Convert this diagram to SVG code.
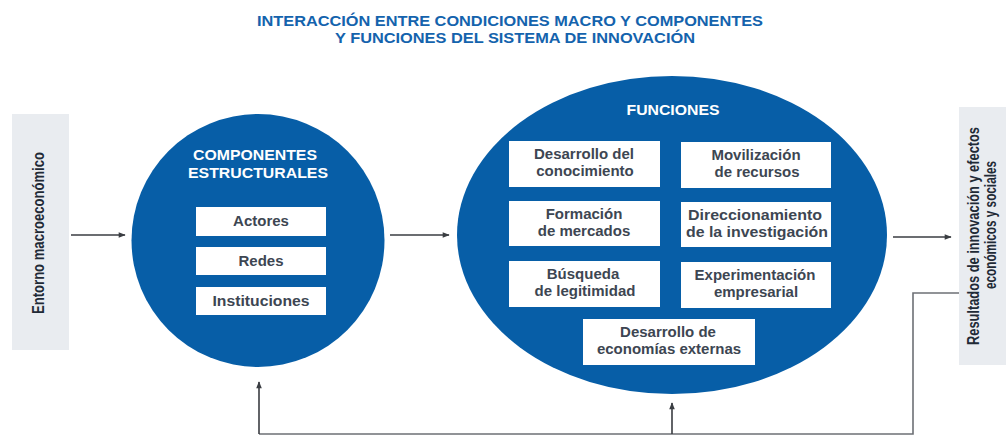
<svg xmlns="http://www.w3.org/2000/svg" width="1006" height="435" viewBox="0 0 1006 435">
<defs>
<marker id="ah" viewBox="0 0 10 10" refX="9" refY="5" markerWidth="8" markerHeight="7" markerUnits="userSpaceOnUse" orient="auto">
<path d="M0,1 L10,5 L0,9 Z" fill="#3a3d42"/>
</marker>
<style>
.title{font-family:"Liberation Sans",Arial,sans-serif;font-weight:bold;font-size:15px;fill:#1463ad;text-anchor:middle}
.head{font-family:"Liberation Sans",Arial,sans-serif;font-weight:bold;font-size:14px;fill:#ffffff;text-anchor:middle}
.bx{fill:#ffffff}
.bt{font-family:"Liberation Sans",Arial,sans-serif;font-weight:bold;font-size:15px;fill:#3d4652;text-anchor:middle}
.side{fill:#e9ecf0}
.st{font-family:"Liberation Sans",Arial,sans-serif;font-weight:bold;font-size:16px;fill:#1f2a36;text-anchor:middle}
.blue{fill:#075ea7}
.cn{stroke:#3a3d42;stroke-width:1.6;fill:none}
.fb{stroke:#6d7075;stroke-width:1.6;fill:none}
</style>
</defs>
<rect width="1006" height="435" fill="#ffffff"/>
<g id="title">
<text class="title" x="510" y="26" textLength="506" lengthAdjust="spacingAndGlyphs">INTERACCIÓN ENTRE CONDICIONES MACRO Y COMPONENTES</text>
<text class="title" x="515" y="43" textLength="360" lengthAdjust="spacingAndGlyphs">Y FUNCIONES DEL SISTEMA DE INNOVACIÓN</text>
</g>
<g id="entorno">
<rect class="side" x="12" y="114" width="57" height="236"/>
<text class="st" transform="translate(44,233) rotate(-90)" textLength="162" lengthAdjust="spacingAndGlyphs">Entorno macroeconómico</text>
</g>
<g id="componentes">
<circle class="blue" cx="258" cy="240.5" r="126.5"/>
<text class="head" x="255" y="160" textLength="124" lengthAdjust="spacingAndGlyphs">COMPONENTES</text>
<text class="head" x="258" y="178" textLength="140" lengthAdjust="spacingAndGlyphs">ESTRUCTURALES</text>
<rect class="bx" x="196" y="207" width="130" height="29"/>
<text class="bt" x="261" y="226">Actores</text>
<rect class="bx" x="196" y="247" width="130" height="28"/>
<text class="bt" x="261" y="266">Redes</text>
<rect class="bx" x="196" y="287" width="130" height="28"/>
<text class="bt" x="261" y="306" textLength="97" lengthAdjust="spacingAndGlyphs">Instituciones</text>
</g>
<g id="funciones">
<ellipse class="blue" cx="672" cy="235" rx="215" ry="159"/>
<text class="head" x="673" y="115" textLength="93" lengthAdjust="spacingAndGlyphs">FUNCIONES</text>
<rect class="bx" x="509" y="141" width="151" height="46"/>
<text class="bt" x="584" y="159">Desarrollo del</text>
<text class="bt" x="585" y="176">conocimiento</text>
<rect class="bx" x="681" y="142" width="150" height="46"/>
<text class="bt" x="756" y="160">Movilización</text>
<text class="bt" x="757" y="177">de recursos</text>
<rect class="bx" x="509" y="201" width="151" height="45"/>
<text class="bt" x="584" y="219">Formación</text>
<text class="bt" x="584" y="236">de mercados</text>
<rect class="bx" x="681" y="202" width="150" height="45"/>
<text class="bt" x="755" y="220" textLength="134" lengthAdjust="spacingAndGlyphs">Direccionamiento</text>
<text class="bt" x="757" y="237" textLength="142" lengthAdjust="spacingAndGlyphs">de la investigación</text>
<rect class="bx" x="509" y="261" width="151" height="46"/>
<text class="bt" x="583" y="279">Búsqueda</text>
<text class="bt" x="585" y="296">de legitimidad</text>
<rect class="bx" x="681" y="262" width="150" height="46"/>
<text class="bt" x="755" y="280">Experimentación</text>
<text class="bt" x="756" y="297">empresarial</text>
<rect class="bx" x="583" y="319" width="172" height="46"/>
<text class="bt" x="668" y="337">Desarrollo de</text>
<text class="bt" x="669" y="354">economías externas</text>
</g>
<g id="resultados">
<rect class="side" x="959" y="107" width="50" height="258"/>
<text class="st" transform="translate(979,236) rotate(-90)" textLength="218" lengthAdjust="spacingAndGlyphs">Resultados de innovación y efectos</text>
<text class="st" transform="translate(996,225) rotate(-90)" textLength="128" lengthAdjust="spacingAndGlyphs">económicos y sociales</text>
</g>
<g id="connectors">
<line class="cn" x1="71" y1="235" x2="125" y2="235" marker-end="url(#ah)"/>
<line class="cn" x1="390" y1="235" x2="449" y2="235" marker-end="url(#ah)"/>
<line class="cn" x1="893" y1="237" x2="951" y2="237" marker-end="url(#ah)"/>
<polyline class="fb" points="959,293 913,293 913,434 259,434"/>
<line class="cn" x1="259" y1="434" x2="259" y2="382" marker-end="url(#ah)"/>
<line class="cn" x1="672" y1="434" x2="672" y2="403" marker-end="url(#ah)"/>
</g>
</svg>
